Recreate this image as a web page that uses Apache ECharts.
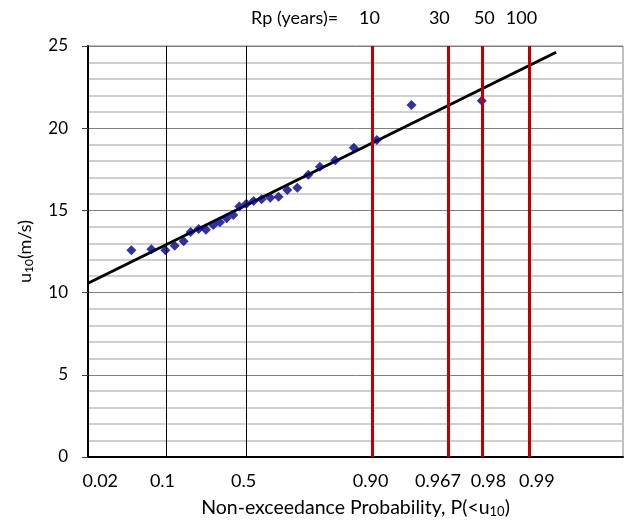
<!DOCTYPE html>
<html>
<head>
<meta charset="utf-8">
<script src="https://cdn.jsdelivr.net/npm/echarts@6/dist/echarts.min.js"></script>
<style>html,body{margin:0;padding:0;background:#fff}#c{width:630px;height:525px}</style>
</head>
<body>
<div id="c"></div>
<script>
// Observed data: Gumbel reduced variate y = -ln(-ln P) and wind speed u10 (m/s)
var obsReduced = [-1.351,-1.052,-0.843,-0.704,-0.569,-0.465,-0.345,-0.236,-0.126,-0.027,0.073,0.173,0.263,0.368,0.477,0.596,0.726,0.850,0.980,1.130,1.294,1.467,1.697,1.975,2.319,2.837,3.888];
var obsSpeed   = [12.57,12.63,12.57,12.85,13.12,13.69,13.87,13.83,14.11,14.28,14.52,14.72,15.23,15.40,15.57,15.68,15.77,15.83,16.24,16.38,17.17,17.66,18.05,18.81,19.28,21.41,21.67];
// Fitted line end points
var fitReduced = [-2, 5];
var fitSpeed   = [10.57, 24.62];
// Probability reference lines
var blackLineProbs = [0.1, 0.5];
var redLineProbs   = [0.90, 0.967, 0.98, 0.99];
// Bottom tick labels and their positions (reduced variate units)
var bottomLabels    = ['0.02','0.1','0.5','0.90','0.967','0.98','0.99'];
var bottomLabelPos  = [-1.817,-0.886,0.327,2.225,3.233,3.988,4.712];
// Top return-period labels and positions
var topLabels   = ['Rp (years)=','10','30','50','100'];
var topLabelPos = [1.089,2.208,3.254,3.927,4.482];
var yTicks = [0,5,10,15,20,25];

function reduced(p){ return -Math.log(-Math.log(p)); }
var FONT = 'Lato';

var chart = echarts.init(document.getElementById('c'), null, {renderer:'canvas'});
var lookup = function(pos, labels){ var m={}; pos.forEach(function(v,i){m[v]=labels[i];}); return m; };
var bMap = lookup(bottomLabelPos, bottomLabels);
var tMap = lookup(topLabelPos, topLabels);

chart.setOption({
  animation:false,
  backgroundColor:'#fff',
  grid:{left:88,right:7,top:46,bottom:68,show:true,borderColor:'#808080',borderWidth:1},
  xAxis:[{
    type:'value',min:-2,max:6,position:'bottom',
    axisLine:{show:true,onZero:false,lineStyle:{color:'#000',width:2}},
    axisTick:{show:false},
    splitLine:{show:false},
    axisLabel:{customValues:bottomLabelPos,formatter:function(v){return bMap[v]||'';},
      color:'#000',fontFamily:FONT,fontSize:18,margin:15},
    name:'{t|Non-exceedance Probability, P(<u}{s|10}{t|)}',
    nameLocation:'middle',nameGap:41,
    nameTextStyle:{rich:{t:{fontFamily:FONT,fontSize:19.5,color:'#000'},s:{fontFamily:FONT,fontSize:13,color:'#000',verticalAlign:'bottom',padding:[7,0,0,0]}}}
  },{
    type:'value',min:-2,max:6,position:'top',
    axisLine:{show:false},axisTick:{show:false},splitLine:{show:false},
    axisLabel:{customValues:topLabelPos,formatter:function(v){return tMap[v]||'';},
      color:'#000',fontFamily:FONT,fontSize:18,margin:19}
  }],
  yAxis:{
    type:'value',min:0,max:25,interval:5,
    axisLine:{show:true,onZero:false,lineStyle:{color:'#000',width:2}},
    axisTick:{show:true,length:6,lineStyle:{color:'#404040'}},
    splitLine:{show:true,lineStyle:{color:'#7f7f7f',width:1}},
    minorTick:{show:false,splitNumber:5},
    minorSplitLine:{show:true,lineStyle:{color:'#c0c0c0',width:1.5}},
    axisLabel:{color:'#000',fontFamily:FONT,fontSize:17,margin:20},
    name:'{t|u}{s|10}{t|(m/s)}',nameLocation:'middle',nameGap:53,nameRotate:90,
    nameTextStyle:{rich:{t:{fontFamily:FONT,fontSize:18,color:'#000'},s:{fontFamily:FONT,fontSize:12,color:'#000',verticalAlign:'bottom',padding:[7,0,0,0]}}}
  },
  series:[{
    type:'line',xAxisIndex:0,
    data:[],symbol:'none',silent:true,
    markLine:{symbol:'none',silent:true,label:{show:false},animation:false,
      data:blackLineProbs.map(function(p){return {xAxis:reduced(p),lineStyle:{color:'#000',width:1,type:'solid'}};})
        .concat(redLineProbs.map(function(p){return {xAxis:reduced(p),lineStyle:{color:'#c00000',width:3,type:'solid'}};}))
    }
  },{
    type:'line',xAxisIndex:0,symbol:'none',
    data:fitReduced.map(function(x,i){return [x,fitSpeed[i]];}),
    lineStyle:{color:'#000',width:3},z:3
  },{
    type:'scatter',xAxisIndex:0,symbol:'diamond',symbolSize:10,
    data:obsReduced.map(function(x,i){return [x,obsSpeed[i]];}),
    itemStyle:{color:'#000080'},z:4
  }]
});
</script>
</body>
</html>
